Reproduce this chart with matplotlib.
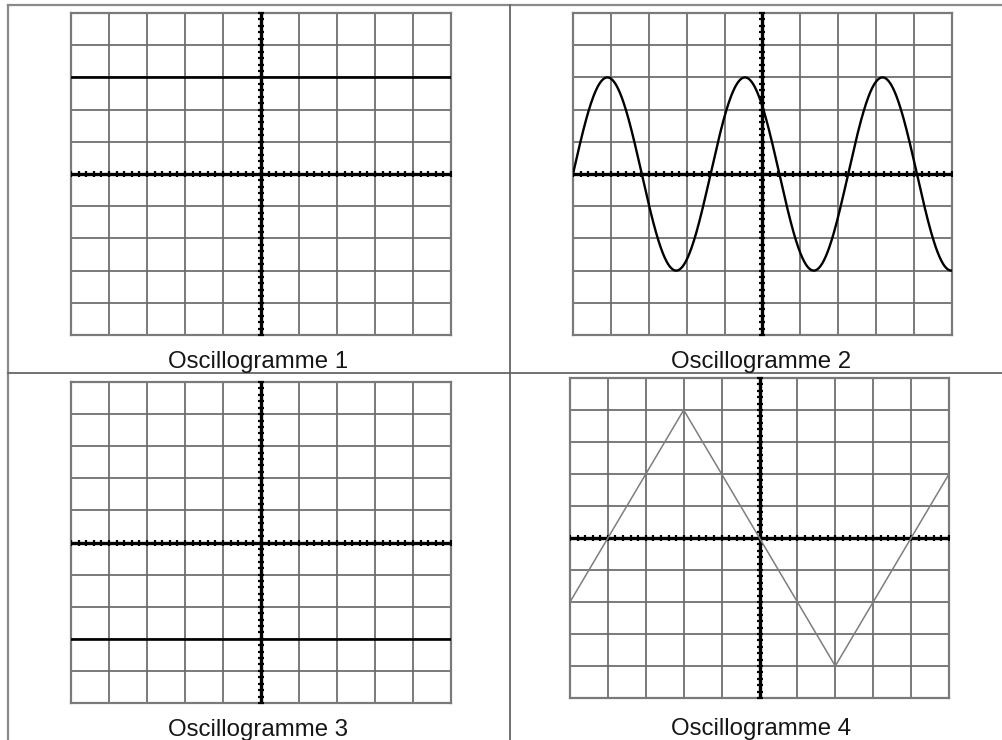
#!/usr/bin/env python3
# Four oscilloscope screens (oscillogrammes 1-4) in a 2x2 table

import numpy as np
import matplotlib
matplotlib.use("Agg")
import matplotlib.pyplot as plt

plt.rcParams["font.family"] = ["Liberation Sans", "DejaVu Sans"]

# -----------------------------
# Data (in divisions, screen is 10 x 10 div, y centred on 0)
# -----------------------------
labels = ["Oscillogramme 1", "Oscillogramme 2", "Oscillogramme 3", "Oscillogramme 4"]

dc1_level = 3.0          # oscillogramme 1 : continuous +3 div
dc3_level = -3.0         # oscillogramme 3 : continuous -3 div

sine_amplitude = 3.0     # oscillogramme 2
sine_period = 3.63

tri_x = [0, 3, 7, 10]    # oscillogramme 4 : triangle vertices
tri_y = [-2, 4, -4, 2]

W, H = 1003, 740

# screen boxes in pixels: left, top, right, bottom
boxes = [
    (71, 13, 451, 335),
    (573, 13, 952, 335),
    (71, 382, 451, 703),
    (570, 378, 949, 698),
]
label_pos = [(258, 368), (761, 368), (258, 736), (761, 735)]

GRID = "#6a6a6a"


def screen(fig, box):
    l, t, r, b = box
    ax = fig.add_axes([l / W, 1 - b / H, (r - l) / W, (b - t) / H])
    ax.set_xlim(0, 10)
    ax.set_ylim(-5, 5)
    ax.set_xticks([])
    ax.set_yticks([])
    for s in ax.spines.values():
        s.set_color("#7a7a7a")
        s.set_linewidth(1.6)
    for i in range(1, 10):
        ax.axvline(i, color=GRID, lw=1.25, zorder=1)
        ax.axhline(i - 5, color=GRID, lw=1.25, zorder=1)
    # central graduated axes
    sub = np.arange(0, 10.01, 0.2)
    ax.plot([0, 10], [0, 0], color="black", lw=2.4, zorder=3, solid_capstyle="butt")
    ax.plot(sub, np.zeros_like(sub), ls="none", marker="|", ms=4.5, mew=1.6,
            color="black", zorder=3)
    ax.plot([5, 5], [-5, 5], color="black", lw=2.4, zorder=3, solid_capstyle="butt")
    ax.plot(np.full_like(sub, 5), sub - 5, ls="none", marker="_", ms=4.5, mew=1.6,
            color="black", zorder=3, clip_on=False)
    return ax


def main():
    fig = plt.figure(figsize=(W / 100, H / 100), dpi=100)

    # table frame
    bg = fig.add_axes([0, 0, 1, 1])
    bg.set_xlim(0, W)
    bg.set_ylim(H, 0)
    bg.axis("off")
    bg.plot([8, W], [5, 5], color="#8a8a8a", lw=1.6)
    bg.plot([8, 8], [5, H], color="#8a8a8a", lw=1.6)
    bg.plot([510, 510], [5, H], color="#666666", lw=1.3)
    bg.plot([8, W], [373, 373], color="#666666", lw=1.3)

    axes = [screen(fig, b) for b in boxes]

    axes[0].plot([0, 10], [dc1_level, dc1_level], color="black", lw=1.9, zorder=4)

    x = np.linspace(0, 10, 800)
    axes[1].plot(x, sine_amplitude * np.sin(2 * np.pi * x / sine_period),
                 color="black", lw=1.7, zorder=4)

    axes[2].plot([0, 10], [dc3_level, dc3_level], color="black", lw=1.9, zorder=4)

    axes[3].plot(tri_x, tri_y, color="#7e7e7e", lw=1.1, zorder=4)

    txt = fig.add_axes([0, 0, 1, 1], zorder=10)
    txt.set_xlim(0, W)
    txt.set_ylim(H, 0)
    txt.axis("off")
    for lab, (cx, cy) in zip(labels, label_pos):
        txt.text(cx, cy, lab, fontsize=17.3, ha="center", va="baseline",
                 color="#161616")

    fig.savefig("out.png", dpi=100)
    plt.close(fig)


if __name__ == "__main__":
    main()
